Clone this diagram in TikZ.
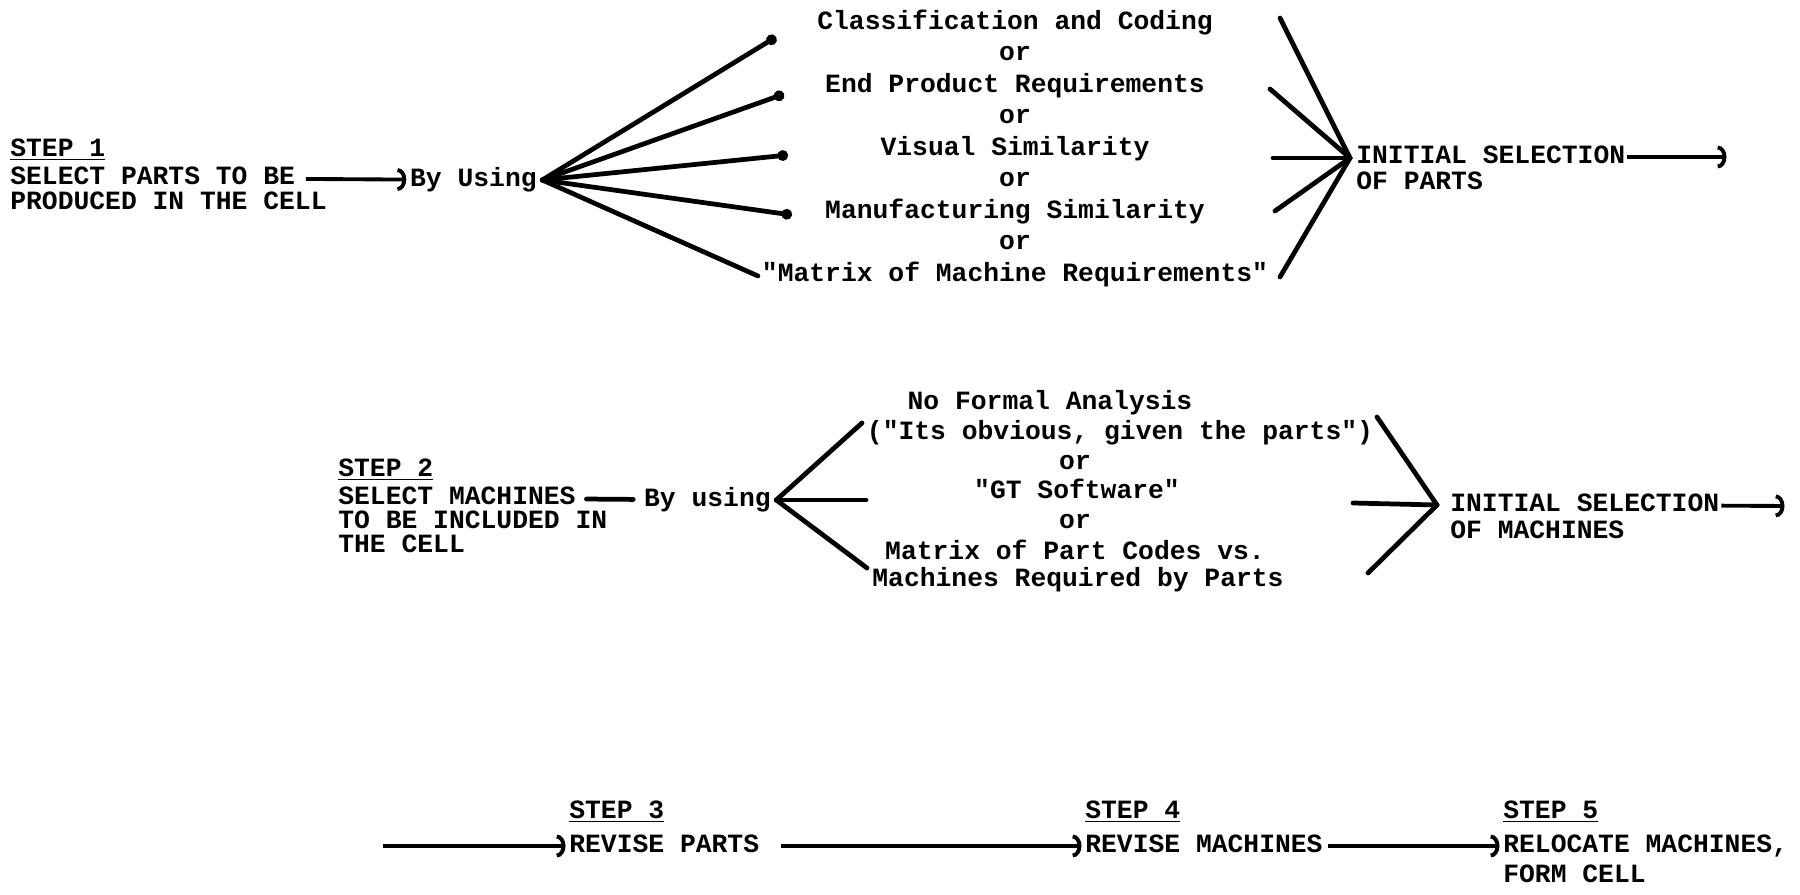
\documentclass[tikz,border=0pt]{standalone}
\usepackage{fontspec}
\setmonofont{Liberation Mono}
\usetikzlibrary{positioning,arrows.meta}

\begin{document}
\begin{tikzpicture}[x=0.02cm,y=-0.02cm,>={Arc Barb[length=5pt,width=13pt]},node distance=0.63cm,
  txt/.style={font=\ttfamily\bfseries\fontsize{15}{22}\selectfont,inner sep=0pt,text height=9pt,text depth=2pt},
  opt/.style={txt,anchor=center},
  fan/.style={line width=2.7pt,line cap=round},
  dotfan/.style={fan,-{Circle[length=6pt]}},
  flow/.style={line width=2.2pt,->,shorten <=6pt,shorten >=2pt}]

\fill[white] (0,0) rectangle (1800,895);
\useasboundingbox (0,0) rectangle (1800,895);

% step 1
\node[txt,anchor=west] (step1) at (10,150) {\underline{STEP 1}};
\node[txt,anchor=west] (sel1) at (10,178) {SELECT PARTS TO BE};
\node[txt,anchor=west] (prod1) at (10,203) {PRODUCED IN THE CELL};
\node[txt,anchor=east] (by1) at (537,180) {By Using};
\coordinate[right=3pt of by1] (fan1);

\node[opt] (cc) at (1015,23) {Classification and Coding};
\node[opt,below of=cc] (or1) {or};
\node[opt,below of=or1] (epr) {End Product Requirements};
\node[opt,below of=epr] (or2) {or};
\node[opt,below of=or2] (vis) {Visual Similarity};
\node[opt,below of=vis] (or3) {or};
\node[opt,below of=or3] (mfg) {Manufacturing Similarity};
\node[opt,below of=mfg] (or4) {or};
\node[opt,below of=or4] (mmr) {"Matrix of Machine Requirements"};

\coordinate (cc end) at (776,37);
\coordinate (epr end) at (784,94);
\coordinate (vis end) at (788,155);
\coordinate (mfg end) at (792,215);
\coordinate (mmr end) at (758,276);

\coordinate (join1) at (1350,158);
\coordinate (cc in) at (1280,18);
\coordinate (epr in) at (1270,89);
\coordinate (vis in) at (1273,158);
\coordinate (mfg in) at (1275,211);
\coordinate (mmr in) at (1280,277);

\node[txt,anchor=west] (init1) at (1356,157) {INITIAL SELECTION};
\node[txt,anchor=west] (parts1) at (1356,183) {OF PARTS};
\coordinate (out1) at (1730,157);

\draw[flow] (sel1) -- (by1);
\draw[dotfan] (fan1) -- (cc end);
\draw[dotfan] (fan1) -- (epr end);
\draw[dotfan] (fan1) -- (vis end);
\draw[dotfan] (fan1) -- (mfg end);
\draw[fan] (fan1) -- (mmr end);
\draw[fan] (cc in) -- (join1);
\draw[fan] (epr in) -- (join1);
\draw[fan] (vis in) -- (join1);
\draw[fan] (mfg in) -- (join1);
\draw[fan] (mmr in) -- (join1);
\draw[flow,shorten <=1pt] (init1) -- (out1);

% step 2
\node[txt,anchor=west] (step2) at (338,470) {\underline{STEP 2}};
\node[txt,anchor=west] (sel2) at (338,498) {SELECT MACHINES};
\node[txt,anchor=west] (inc2) at (338,522) {TO BE INCLUDED IN};
\node[txt,anchor=west] (cell2) at (338,546) {THE CELL};
\node[txt,anchor=east] (by2) at (771,500) {By using};
\coordinate[right=3pt of by2] (fan2);

\node[opt] (nfa) at (1050,403) {No Formal Analysis};
\node[opt] (obv) at (1120,433) {("Its obvious, given the parts")};
\node[opt] (or5) at (1075,463) {or};
\node[opt] (gts) at (1077,492) {"GT Software"};
\node[opt] (or6) at (1075,522) {or};
\node[opt] (mpc) at (1075,553) {Matrix of Part Codes vs.};
\node[opt] (mrp) at (1078,580) {Machines Required by Parts};

\coordinate (nfa end) at (862,423);
\coordinate (gts end) at (866,500);
\coordinate (mpc end) at (867,568);

\coordinate (join2) at (1437,505);
\coordinate (obv in) at (1377,417);
\coordinate (gts in) at (1353,503);
\coordinate (mrp in) at (1368,573);

\node[txt,anchor=west] (init2) at (1450,505) {INITIAL SELECTION};
\node[txt,anchor=west] (mach2) at (1450,532) {OF MACHINES};
\coordinate (out2) at (1788,506);

\draw[fan,shorten <=6pt,shorten >=6pt] (sel2) -- (by2);
\draw[fan] (fan2) -- (nfa end);
\draw[fan] (fan2) -- (gts end);
\draw[fan] (fan2) -- (mpc end);
\draw[fan] (obv in) -- (join2);
\draw[fan] (gts in) -- (join2);
\draw[fan] (mrp in) -- (join2);
\draw[flow,shorten <=1pt] (init2) -- (out2);

% steps 3 to 5
\coordinate (in3) at (383,846);
\node[txt,anchor=west] (step3) at (569,812) {\underline{STEP 3}};
\node[txt,anchor=west] (rev3) at (569,846) {REVISE PARTS};
\node[txt,anchor=west] (step4) at (1085,812) {\underline{STEP 4}};
\node[txt,anchor=west] (rev4) at (1085,846) {REVISE MACHINES};
\node[txt,anchor=west] (step5) at (1503,812) {\underline{STEP 5}};
\node[txt,anchor=west] (rev5) at (1503,846) {RELOCATE MACHINES,};
\node[txt,anchor=west] (form5) at (1503,876) {FORM CELL};

\draw[flow,shorten <=0pt] (in3) -- (rev3);
\draw[flow,shorten <=12pt] (rev3) -- (rev4);
\draw[flow,shorten <=3pt] (rev4) -- (rev5);

\end{tikzpicture}
\end{document}
